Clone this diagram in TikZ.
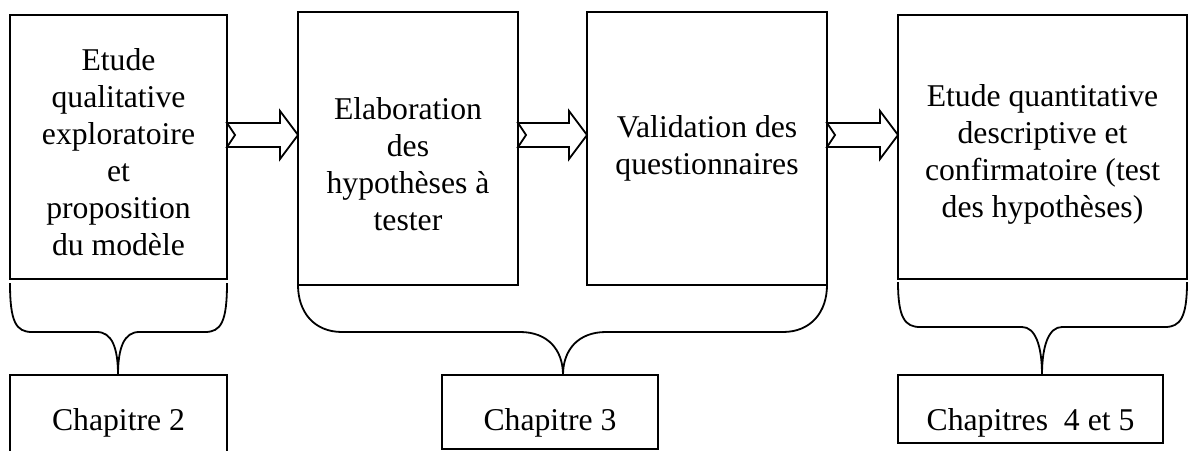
\documentclass[tikz,border=0pt]{standalone}
\usepackage{fontspec}
\setmainfont{Liberation Serif}
\usetikzlibrary{calc}
\tikzset{
  box/.style={draw, line width=1.8pt, rectangle, inner sep=0pt, outer sep=0pt, anchor=north west},
  txt/.style={align=center, inner sep=0pt, font=\fontsize{31.7}{37}\selectfont},
  brace/.style={draw, line width=1.8pt},
  blockarrow/.style={draw, line width=1.8pt, fill=white, line join=miter}
}
\newcommand{\myarrow}[2]{%
  \path[blockarrow] let \p1=(#1.east), \p2=(#2.west) in
    (\x1,123) -- (\x2-18pt,123) -- (\x2-18pt,111) -- (\x2,135) -- (\x2-18pt,159)
    -- (\x2-18pt,147) -- (\x1,147) -- (\x1+8pt,135) -- cycle;}
\begin{document}
\begin{tikzpicture}[x=1pt,y=-1pt]
\useasboundingbox (0,0) rectangle (1190,450);
\clip (0,0) rectangle (1190,450);
% main boxes
\node[box, minimum width=217pt, minimum height=264pt] (b1) at (10,15) {};
\node[box, minimum width=220pt, minimum height=273pt] (b2) at (298,12) {};
\node[box, minimum width=240pt, minimum height=273pt] (b3) at (587,12) {};
\node[box, minimum width=289pt, minimum height=264pt] (b4) at (898,15) {};
% chapter boxes
\node[box, minimum width=217pt, minimum height=90pt] (c2) at (10,375) {};
\node[box, minimum width=216pt, minimum height=74pt] (c3) at (442,375) {};
\node[box, minimum width=265pt, minimum height=68pt] (c45) at (898,375) {};
% texts
\node[txt] (t1) at (118.5,151.7) {Etude\\qualitative\\exploratoire\\et\\proposition\\du mod\`ele};
\node[txt] (t2) at (408,164.5) {Elaboration\\des\\hypoth\`eses \`a\\tester};
\node[txt] (t3) at (707,148.6) {Validation des\\questionnaires};
\node[txt] (t4) at (1042.5,154.6) {Etude quantitative\\descriptive et\\confirmatoire (test\\des hypoth\`eses)};
\node[txt, anchor=base] (tc2) at (118.5,430) {Chapitre 2};
\node[txt, anchor=base] (tc3) at (550,430) {Chapitre 3};
\node[txt, anchor=base] (tc45) at (1030.5,430) {Chapitres\ \ 4 et 5};
% block arrows
\myarrow{b1}{b2}
\myarrow{b2}{b3}
\myarrow{b3}{b4}
% braces
\draw[brace] (10,283) .. controls (10,322) and (16,332) .. (32,332) -- (97,332)
  .. controls (112,332) and (118,348) .. (118,375)
  .. controls (118,348) and (124,332) .. (139,332) -- (205,332)
  .. controls (221,332) and (227,322) .. (227,283);
\draw[brace] (298,285) .. controls (298,312) and (314,332) .. (342,332) -- (520,332)
  .. controls (548,332) and (563,350) .. (563,375)
  .. controls (563,350) and (578,332) .. (606,332) -- (783,332)
  .. controls (811,332) and (827,312) .. (827,285);
\draw[brace] (898,282) .. controls (898,318) and (905,327) .. (920,327) -- (1022,327)
  .. controls (1035,327) and (1042,345) .. (1042,375)
  .. controls (1042,345) and (1049,327) .. (1062,327) -- (1165,327)
  .. controls (1180,327) and (1187,318) .. (1187,282);
\end{tikzpicture}
\end{document}
